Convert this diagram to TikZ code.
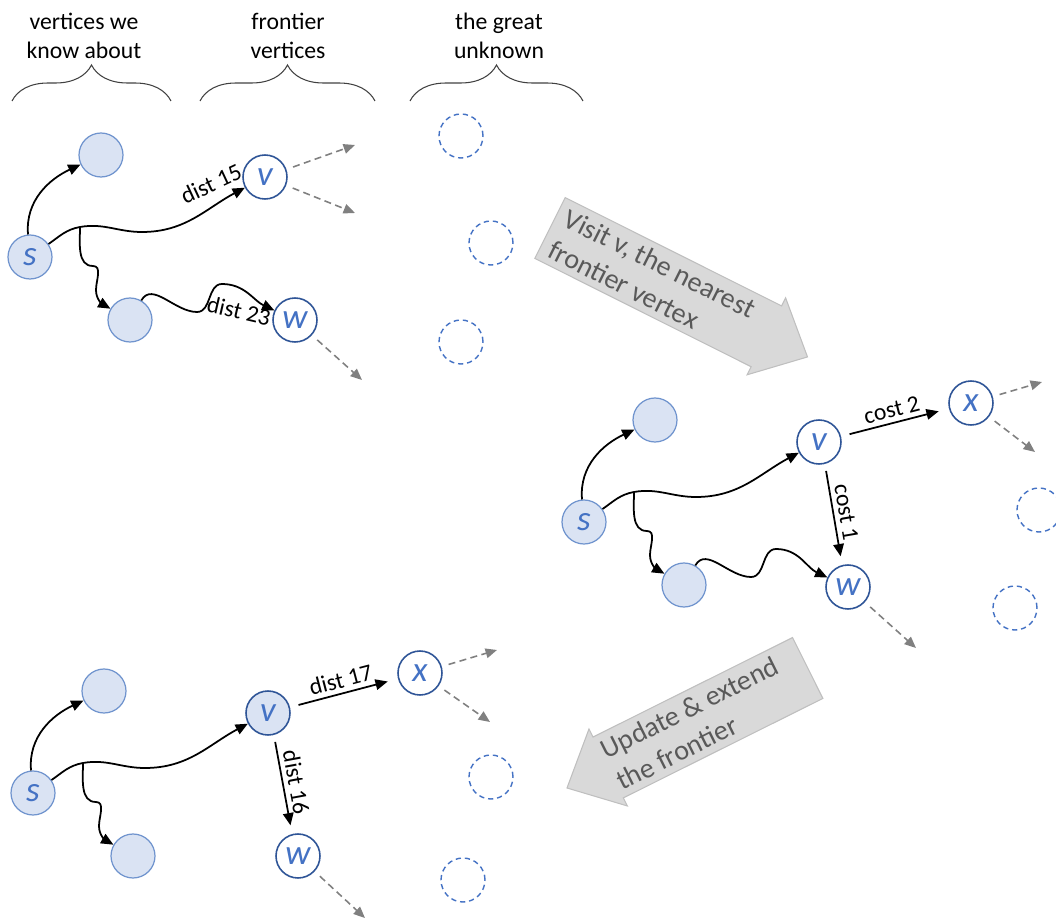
\documentclass[tikz,border=0pt]{standalone}
\usepackage{fontspec}
\setmainfont{Carlito}
\usetikzlibrary{arrows.meta,decorations.pathreplacing}

\definecolor{nodefill}{HTML}{DAE3F3}
\definecolor{nodeline}{HTML}{7094CE}
\definecolor{darkline}{HTML}{2F5597}
\definecolor{letterblue}{HTML}{4472C4}
\definecolor{arrowfill}{HTML}{D9D9D9}
\definecolor{arrowline}{HTML}{BFBFBF}
\definecolor{arrowtext}{HTML}{595959}
\definecolor{futuregray}{HTML}{808080}

\begin{document}
\begin{tikzpicture}[x=0.02cm, y=-0.02cm,
    vtx/.style={circle, minimum size=0.88cm, inner sep=0pt, text=letterblue, font=\fontsize{20}{20}\selectfont\itshape},
    known/.style={vtx, fill=nodefill, draw=nodeline, line width=0.7pt},
    frontier/.style={vtx, fill=white, draw=darkline, line width=0.9pt},
    visited/.style={vtx, fill=nodefill, draw=darkline, line width=0.9pt},
    unknown/.style={vtx, draw=letterblue, line width=0.8pt, dash pattern=on 3pt off 2.2pt},
    walk/.style={-{Triangle[length=7pt,width=6pt]}, line width=1pt},
    future/.style={-{Triangle[length=6.5pt,width=5.5pt]}, futuregray, line width=0.9pt, dash pattern=on 4pt off 2.5pt, shorten <=4pt},
    lbl/.style={font=\fontsize{13.5}{16}\selectfont, inner sep=2.5pt},
    hdr/.style={font=\fontsize{13.5}{16.5}\selectfont, align=center},
    brc/.style={decorate, decoration={brace, amplitude=0.72cm}, draw=black!75, line width=0.6pt},
    bigarrow/.style={fill=arrowfill, draw=arrowline, line width=0.6pt},
    bigtext/.style={font=\fontsize{16}{20}\selectfont, text=arrowtext, align=left, transform shape, anchor=west, inner sep=0pt}]

    \useasboundingbox (0,0) rectangle (1056,922);

    % s, the two known vertices and the walks from s (v#1 must exist first)
    \def\knownpart#1{%
        \node[known] (s#1) at (30,257) {s};
        \node[known] (a#1) at (101,155) {};
        \node[known] (b#1) at (130,320) {};
        \coordinate (fork#1) at (80,227);
        \draw[walk] (s#1) to[out=95,in=205] (a#1);
        \draw[walk] (s#1) to[out=35,in=190] (fork#1) to[out=10,in=180] (142,232) to[out=0,in=208] (v#1);
        \draw[walk] (fork#1) to[out=-90,in=180] (93,266) to[out=0,in=90] (96,290) to[out=-90,in=150] (b#1);
    }

    % --- Column headers ---
    \node[hdr] (h1) at (84,36) {vertices we\\know about};
    \node[hdr] (h2) at (288,36) {frontier\\vertices};
    \node[hdr] (h3) at (499,36) {the great\\unknown};
    \draw[brc] (12,101) -- (171,101);
    \draw[brc] (200,101) -- (375,101);
    \draw[brc] (410,101) -- (583,101);

    % --- Top left: before the step ---
    \begin{scope}
        \node[frontier] (v1) at (265,177) {v};
        \node[frontier] (w1) at (295,320) {w};
        \knownpart{1}
        \draw[walk] (b1) to[out=60,in=180] (197,312) to[out=0,in=180] (222,284) to[out=0,in=155] (w1);
        \node[lbl, rotate=25] (d15) at (211,184) {dist 15};
        \node[lbl, rotate=-13] (d23) at (239,311) {dist 23};
        \foreach \p [count=\i] in {(461,136),(491,243),(461,342)}
            \node[unknown] (u1\i) at \p {};
        \coordinate (v1a) at (355,145);
        \coordinate (v1b) at (355,213);
        \coordinate (w1a) at (362,380);
        \draw[future] (v1) -- (v1a);
        \draw[future] (v1) -- (v1b);
        \draw[future] (w1) -- (w1a);
    \end{scope}

    % --- Right: visiting v ---
    \begin{scope}[shift={(554,265)}]
        \node[frontier] (v2) at (265,177) {v};
        \node[frontier] (w2) at (294,322) {w};
        \node[frontier] (x2) at (417,138) {x};
        \knownpart{2}
        \draw[walk] (b2) to[out=60,in=180] (197,312) to[out=0,in=180] (222,284) to[out=0,in=155] (w2);
        \draw[walk, shorten <=5pt, shorten >=6pt] (v2) -- node[lbl, above, sloped] (c2) {cost 2} (x2);
        \draw[walk, shorten <=4pt, shorten >=5pt] (v2.-75) -- node[lbl, above, sloped] (c1) {cost 1} (w2.105);
        \foreach \p [count=\i] in {(485,245),(461,343)}
            \node[unknown] (u2\i) at \p {};
        \coordinate (x2a) at (488,117);
        \coordinate (x2b) at (481,187);
        \coordinate (w2a) at (362,383);
        \draw[future] (x2) -- (x2a);
        \draw[future] (x2) -- (x2b);
        \draw[future] (w2) -- (w2a);
    \end{scope}

    % --- Bottom left: frontier updated ---
    \begin{scope}[shift={(3,536)}]
        \node[visited] (v3) at (265,177) {v};
        \node[frontier] (w3) at (295,320) {w};
        \node[frontier] (x3) at (417,137) {x};
        \knownpart{3}
        \draw[walk, shorten <=5pt, shorten >=6pt] (v3) -- node[lbl, above, sloped] (d17) {dist 17} (x3);
        \draw[walk, shorten <=4pt, shorten >=5pt] (v3.-75) -- node[lbl, above, sloped] (d16) {dist 16} (w3.105);
        \foreach \p [count=\i] in {(488,241),(460,344)}
            \node[unknown] (u3\i) at \p {};
        \coordinate (x3a) at (494,114);
        \coordinate (x3b) at (487,186);
        \coordinate (w3a) at (362,382);
        \draw[future] (x3) -- (x3a);
        \draw[future] (x3) -- (x3b);
        \draw[future] (w3) -- (w3a);
    \end{scope}

    % --- Big step arrows ---
    \begin{scope}[shift={(550,228)}, rotate=-26.6]
        \draw[bigarrow] (0,-34) -- (242,-34) -- (242,-43) -- (288,0) -- (242,43) -- (242,34) -- (0,34) -- cycle;
        \node[bigtext] (visit) at (9,0) {Visit v, the nearest\\frontier vertex};
    \end{scope}
    \begin{scope}[shift={(567,788)}, rotate=26.5]
        \draw[bigarrow] (0,0) -- (46,-43) -- (46,-34) -- (269,-34) -- (269,34) -- (46,34) -- (46,43) -- cycle;
        \node[bigtext] (update) at (48,0) {Update \& extend\\the frontier};
    \end{scope}
\end{tikzpicture}
\end{document}
